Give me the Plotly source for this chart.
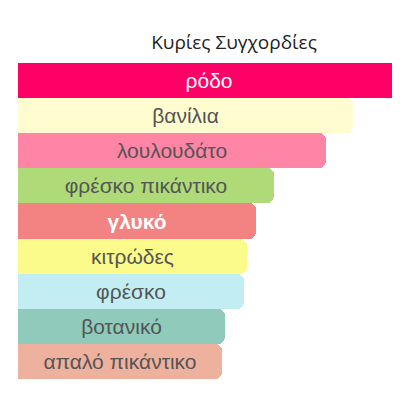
import plotly.graph_objects as go

accords = ['ρόδο', 'βανίλια', 'λουλουδάτο', 'φρέσκο πικάντικο', 'γλυκό',
           'κιτρώδες', 'φρέσκο', 'βοτανικό', 'απαλό πικάντικο']
strength = [100, 87.7, 80.6, 67.0, 62.3, 59.9, 59.2, 54.2, 53.4]
colors = ['#FF0066', '#FFFDCF', '#FF85A7', '#AEDB78', '#F38283',
          '#FBFB8C', '#C2EEF3', '#8FCABA', '#EEB19E']
text_colors = ['#FFFFFF', '#555555', '#555555', '#555555', '#FFFFFF',
               '#555555', '#555555', '#555555', '#555555']

# γλυκό is drawn heavier in the original
labels = ['<b>%s</b>' % a if a == 'γλυκό' else a for a in accords]

# page body adds an 8px offset
fig = go.Figure(go.Bar(
    x=strength,
    y=accords,
    orientation='h',
    marker=dict(color=colors, line=dict(width=0), cornerradius=7),
    text=labels,
    textposition='inside',
    insidetextanchor='middle',
    textfont=dict(family='Liberation Sans, Arial', size=21, color=text_colors),
    hoverinfo='skip',
))

fig.update_layout(
    width=400, height=384,
    margin=dict(l=10, r=0, t=55, b=13),
    paper_bgcolor='white', plot_bgcolor='white',
    bargap=0,
    showlegend=False,
    title=dict(text='Κυρίες Συγχορδίες', x=226 / 400, xanchor='center',
               y=1 - 34 / 384, yanchor='middle',
               font=dict(family='Open Sans', size=19, color='#222222')),
    xaxis=dict(range=[0, 102.1], visible=False),
    yaxis=dict(autorange='reversed', visible=False),
)

fig.write_html('out.html')
